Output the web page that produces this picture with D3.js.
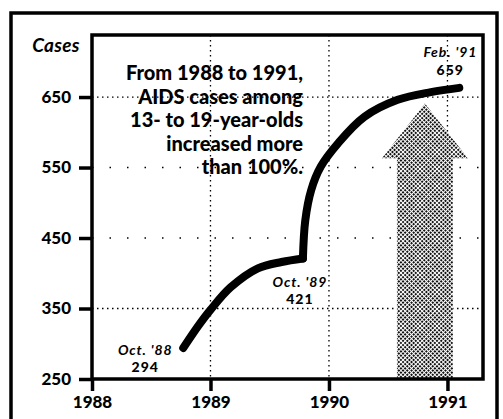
<!DOCTYPE html>
<html><head><meta charset="utf-8">
<script src="https://cdn.jsdelivr.net/npm/d3@7"></script>
<style>
html,body{margin:0;padding:0;background:#fff;}
svg{display:block;}
text{font-family:Lato,"Open Sans",sans-serif;font-weight:bold;fill:#000;}
</style></head>
<body>
<svg id="chart" width="503" height="419"></svg>
<script>
// ---- data ----
// curve, first part (Oct '88 -> Oct '89) and second part (Oct '89 -> Feb '91)
const years1 = [1988.77, 1988.9, 1989.0, 1989.17, 1989.4, 1989.6, 1989.78];
const cases1 = [294, 326, 348, 380, 407, 416, 421];
const years2 = [1989.78, 1989.8, 1989.85, 1989.93, 1990.08, 1990.3, 1990.58, 1990.86, 1991.1];
const cases2 = [421, 475, 518, 551, 585, 622, 646, 657, 663];
const yTicks = [250, 350, 450, 550, 650];
const xTicks = [1988, 1989, 1990, 1991];
const gridX = [1989, 1990, 1991];
const gridY = [350, 450, 550, 650];
const callouts = [
  {year: 1988.77, label: "Oct. '88", num: "294"},
  {year: 1989.78, label: "Oct. '89", num: "421"},
  {year: 1991.1, label: "Feb. '91", num: "659"}
];
const headline = ["From 1988 to 1991,", "AIDS cases among", "13- to 19-year-olds", "increased more", "than 100%."];
const arrowCenterYear = 1990.81;
const arrowValues = [250, 563, 641]; // base, head base, tip

const svg = d3.select("#chart");
const x = d3.scaleLinear().domain([1988, 1991.3]).range([92, 483]);
const y = d3.scaleLinear().domain([250, 738]).range([379, 35]);

// halftone pattern
const defs = svg.append("defs");
const pat = defs.append("pattern").attr("id","ht").attr("width",3).attr("height",3)
  .attr("patternUnits","userSpaceOnUse").attr("patternTransform","rotate(45)");
pat.append("rect").attr("width",3).attr("height",3).attr("fill","#fff");
pat.append("rect").attr("x",0).attr("y",0).attr("width",2).attr("height",2).attr("fill","#111");

// outer frame
svg.append("rect").attr("x",11).attr("y",13).attr("width",486).attr("height",430)
  .attr("fill","none").attr("stroke","#000").attr("stroke-width",3.5);

// gridlines
svg.append("g").selectAll("line").data(gridX).join("line")
  .attr("x1", d => x(d)).attr("x2", d => x(d))
  .attr("y1", y.range()[1]).attr("y2", y.range()[0])
  .attr("stroke","#000").attr("stroke-width",1.3).attr("stroke-dasharray","1.5,3.5");
svg.append("g").selectAll("line").data(gridY).join("line")
  .attr("x1", x.range()[0]).attr("x2", x.range()[1])
  .attr("y1", d => y(d)).attr("y2", d => y(d))
  .attr("stroke","#000").attr("stroke-width",1.3)
  .attr("stroke-dasharray", d => (d === 650 || d === 350) ? "1.5,3.5" : "1.5,16");

// arrow
const cx = x(arrowCenterYear);
const sw = 28, hw = 43;
const arrowPts = [
  [cx - sw, y(arrowValues[0])], [cx - sw, y(arrowValues[1])], [cx - hw, y(arrowValues[1])],
  [cx, y(arrowValues[2])],
  [cx + hw, y(arrowValues[1])], [cx + sw, y(arrowValues[1])], [cx + sw, y(arrowValues[0])]
];
svg.append("path").attr("d", d3.line()(arrowPts) + "Z").attr("fill","url(#ht)");

// plot frame
svg.append("rect").attr("x",x.range()[0]).attr("y",y.range()[1])
  .attr("width",x.range()[1]-x.range()[0]).attr("height",y.range()[0]-y.range()[1])
  .attr("fill","none").attr("stroke","#000").attr("stroke-width",3.5);

// axes
const yAxis = svg.append("g").attr("transform",`translate(${x.range()[0]},0)`)
  .call(d3.axisLeft(y).tickValues(yTicks).tickSize(13).tickPadding(8));
const xAxis = svg.append("g").attr("transform",`translate(0,${y.range()[0]})`)
  .call(d3.axisBottom(x).tickValues(xTicks).tickSize(12).tickPadding(5).tickFormat(d3.format("d")));
[yAxis, xAxis].forEach(g => {
  g.select(".domain").remove();
  g.selectAll(".tick line").attr("stroke","#000").attr("stroke-width",3.5);
  g.selectAll(".tick text").style("font-size","17px").style("font-weight","900")
    .style("font-family",'Lato,"Open Sans",sans-serif').attr("fill","#000");
});

// "Cases"
svg.append("text").attr("x",56).attr("y",52).attr("text-anchor","middle")
  .style("font-size","19px").style("font-weight","bold").style("font-style","italic")
  .style("letter-spacing","0.3px").text("Cases");

// curve (two smooth pieces meeting at the Oct '89 kink)
const line = d3.line().x(d=>x(d[0])).y(d=>y(d[1])).curve(d3.curveCatmullRom.alpha(0.5));
[[years1, cases1], [years2, cases2]].forEach(([ys, cs]) => {
  svg.append("path").datum(ys.map((d,i)=>[d,cs[i]]))
    .attr("d", line)
    .attr("fill","none").attr("stroke","#000").attr("stroke-width",8)
    .attr("stroke-linecap","round").attr("stroke-linejoin","round");
});

// headline
svg.append("g").selectAll("text").data(headline).join("text")
  .attr("x",303).attr("y",(d,i)=>80 + i*23.5).attr("text-anchor","end")
  .style("font-size","20px").style("font-weight","900").text(d=>d);

// callouts
const co = [
  {dx: -38, dy1: 355, dy2: 372},
  {dx: -3, dy1: 287, dy2: 304},
  {dx: -9, dy1: 57, dy2: 75}
];
callouts.forEach((c,i) => {
  const px = x(c.year) + co[i].dx;
  svg.append("text").attr("x",px).attr("y",co[i].dy1).attr("text-anchor","middle")
    .style("font-size","14px").style("font-weight","bold").style("font-style","italic")
    .style("letter-spacing","0.9px").text(c.label);
  svg.append("text").attr("x",px).attr("y",co[i].dy2).attr("text-anchor","middle")
    .style("font-size","14px").style("font-weight","900").style("letter-spacing","1px").text(c.num);
});
</script>
</body></html>
